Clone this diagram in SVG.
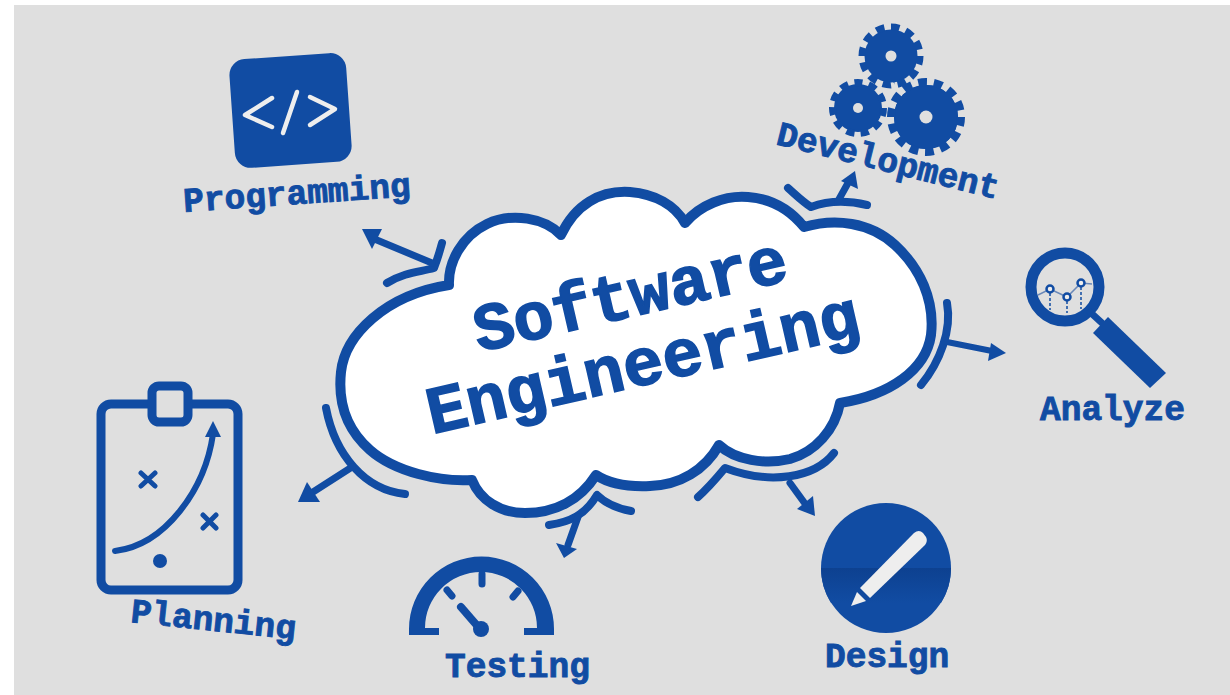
<svg xmlns="http://www.w3.org/2000/svg" width="1230" height="695" viewBox="0 0 1230 695">
<style>
.t{font-family:"Liberation Mono","DejaVu Sans Mono",monospace;font-weight:700;fill:#114ca3;stroke:#114ca3}
.l{font-size:34.5px;stroke-width:.9px}
.b{font-size:67px;stroke-width:1.6px}
.s{fill:none;stroke:#114ca3;stroke-linecap:round;stroke-linejoin:round}
.f{fill:#114ca3}
.w{fill:none;stroke:#eeeeee;stroke-width:4.5;stroke-linecap:round;stroke-linejoin:round}
.h{fill:#dfdfdf}
.g{fill:none;stroke:#114ca3;stroke-dasharray:9 7}
</style>
<defs>
<linearGradient id="band" x1="0" y1="0" x2="0" y2="1"><stop offset="0" stop-color="#0d4190"/><stop offset="1" stop-color="#114ca3"/></linearGradient>
</defs>
<rect width="1230" height="695" fill="#ffffff"/>
<rect x="14" y="5" width="1216" height="690" fill="#dfdfdf"/>

<g id="connectors">
<g id="c-programming">
<path class="s" stroke-width="8" d="M387,283 C405,272 420,272 434,268 C438,258 440,250 442,243"/>
<path class="s" stroke-width="7" d="M432,263 L372,238"/>
<polygon class="f" points="362,229 382,229 372,249"/>
</g>
<g id="c-development">
<path class="s" stroke-width="8" d="M788,188 C796,195 803,202 811,207 C830,200 850,201 867,205"/>
<path class="s" stroke-width="7" d="M838,201 L848,183"/>
<polygon class="f" points="855,171 858,189 841,181"/>
</g>
<g id="c-analyze">
<path class="s" stroke-width="8" d="M947,303 C952,330 940,362 921,385"/>
<path class="s" stroke-width="6" d="M947,342 L992,351"/>
<polygon class="f" points="1006,353 988,361 991,343"/>
</g>
<g id="c-design">
<path class="s" stroke-width="8" d="M834,453 C815,478 770,485 725,468 C715,480 706,490 698,497"/>
<path class="s" stroke-width="7" d="M790,483 L806,505"/>
<polygon class="f" points="815,516 797,509 813,496"/>
</g>
<g id="c-testing">
<path class="s" stroke-width="8" d="M631,511 C615,508 605,503 597,495 C585,515 570,522 549,525"/>
<path class="s" stroke-width="7" d="M578,517 L568,545"/>
<polygon class="f" points="564,558 556,543 577,549"/>
</g>
<g id="c-planning">
<path class="s" stroke-width="8" d="M326,408 C335,455 365,490 405,494"/>
<path class="s" stroke-width="7" d="M352,467 L313,492"/>
<polygon class="f" points="298,502 307,482 320,502"/>
</g>
</g>

<g id="cloud">
<path fill="#ffffff" stroke="#114ca3" stroke-width="10" stroke-linejoin="round" d="M561,235 C575,205 600,190 630,192 C655,194 675,205 685,223 C700,205 725,195 748,197 C775,199 792,212 804,227 C835,218 870,222 895,245 C920,268 935,300 931,335 C926,370 890,395 840,403 C835,430 815,452 790,459 C765,465 735,460 719,445 C705,470 680,485 650,486 C628,487 608,483 596,475 C580,500 555,513 525,513 C500,513 480,500 472,480 C440,482 395,472 370,450 C345,428 338,400 341,372 C345,335 385,295 449,285 C448,262 462,236 487,224 C512,212 545,218 561,235 Z"/>
<g transform="translate(479,352) rotate(-13)"><text class="t b" x="0" y="0" textLength="320" lengthAdjust="spacing">Software</text></g>
<g transform="translate(432,434) rotate(-13)"><text class="t b" x="0" y="0" textLength="442" lengthAdjust="spacing">Engineering</text></g>
</g>

<g id="programming">
<rect class="f" x="232" y="56" width="117" height="109" rx="16" transform="rotate(-4 290 110)"/>
<path class="w" d="M272,127 L245,115 L272,98"/>
<path class="w" d="M297,92 L283,133"/>
<path class="w" d="M310,97 L335,109 L310,125"/>
<text class="t l" transform="translate(184,212) rotate(-4)">Programming</text>
</g>

<g id="development">
<g id="gear-top">
<circle class="f" cx="891" cy="56" r="26.5"/>
<circle class="g" cx="891" cy="56" r="29" stroke-width="7" pathLength="192"/>
<circle class="h" cx="891" cy="56" r="5.5"/>
</g>
<g id="gear-left">
<circle class="f" cx="858" cy="108" r="24"/>
<circle class="g" cx="858" cy="108" r="25.5" stroke-width="7" pathLength="176"/>
<circle class="h" cx="858" cy="108" r="5"/>
</g>
<g id="gear-right">
<circle cx="926" cy="117" r="35" fill="#114ca3" stroke="#dfdfdf" stroke-width="6"/>
<circle class="f" cx="926" cy="117" r="32"/>
<circle class="g" cx="926" cy="117" r="35" stroke-width="8" pathLength="224"/>
<circle class="h" cx="926" cy="117" r="6.5"/>
</g>
<text class="t l" transform="translate(775,144) rotate(14)">Development</text>
</g>

<g id="analyze">
<circle cx="1065" cy="287" r="34" fill="none" stroke="#114ca3" stroke-width="11"/>
<path fill="none" stroke="#6a88b8" stroke-width="1.5" d="M1038,295 L1050,289 L1067,297 L1081,283 L1092,284"/>
<path fill="none" stroke="#114ca3" stroke-width="1.5" stroke-dasharray="3 2" d="M1050,293 V310 M1067,301 V313 M1081,287 V309"/>
<circle cx="1050" cy="289" r="3.5" fill="#eeeeee" stroke="#114ca3" stroke-width="2.5"/>
<circle cx="1067" cy="297" r="3.5" fill="#eeeeee" stroke="#114ca3" stroke-width="2.5"/>
<circle cx="1081" cy="283" r="3.5" fill="#eeeeee" stroke="#114ca3" stroke-width="2.5"/>
<path class="s" stroke-width="7" d="M1090,312 L1102,323"/>
<polygon class="f" points="1108,317 1166,373 1150,388 1093,333"/>
<text class="t l" x="1040" y="420">Analyze</text>
</g>

<g id="design">
<circle class="f" cx="886" cy="568" r="65"/>
<path fill="url(#band)" d="M821,568 H951 A65,65 0 0 1 941,603 H831 A65,65 0 0 1 821,568 Z"/>
<path fill="#eeeeee" d="M914,533 Q919,529 923,533 L926,537 Q928,541 925,545 L870,598 L860,588 Z"/>
<polygon fill="#eeeeee" points="857,592 866,601 851,606"/>
<text class="t l" x="825" y="667">Design</text>
</g>

<g id="testing">
<path class="f" d="M409,635 V629 A72.5,72.5 0 0 1 554,629 V635 H524 V628 H537 A56,56 0 0 0 425,628 H439 V635 Z"/>
<path class="s" stroke-width="7" d="M482,574 V584 M447,590 L452,596 M518,591 L513,597"/>
<path class="s" stroke-width="8" d="M461,607 L480,629"/>
<circle class="f" cx="481" cy="629" r="8"/>
<text class="t l" x="445" y="677">Testing</text>
</g>

<g id="planning">
<rect x="101" y="404" width="137" height="186" rx="10" fill="none" stroke="#114ca3" stroke-width="9"/>
<rect x="152" y="386" width="36" height="36" rx="7" fill="#dfdfdf" stroke="#114ca3" stroke-width="9"/>
<path class="s" stroke-width="6" d="M115,551 C165,545 205,490 213,434"/>
<polygon class="f" points="213,421 221,437 205,437"/>
<path class="s" stroke-width="5" d="M141,473 L155,486 M155,473 L141,486 M203,515 L216,528 M216,515 L203,528"/>
<circle class="f" cx="160" cy="561" r="7"/>
<text class="t l" transform="translate(130,622) rotate(6)">Planning</text>
</g>
</svg>
